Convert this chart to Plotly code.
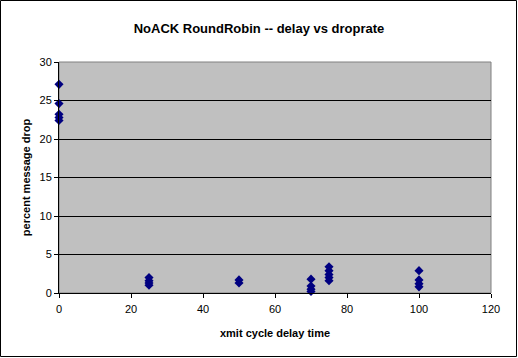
import plotly.graph_objects as go

delay = [0, 0, 0, 0, 0,
         25, 25, 25, 25,
         50, 50,
         70, 70, 70, 70,
         75, 75, 75, 75, 75,
         100, 100, 100, 100]
droprate = [27.1, 24.6, 23.2, 22.8, 22.4,
            2.0, 1.6, 1.3, 1.0,
            1.7, 1.3,
            1.8, 0.9, 0.5, 0.2,
            3.4, 2.9, 2.4, 2.0, 1.6,
            2.9, 1.7, 1.2, 0.8]
xticks = [0, 20, 40, 60, 80, 100, 120]
yticks = [0, 5, 10, 15, 20, 25, 30]

W, H = 518, 358
L, R, T, B = 59, 27, 62, 65
PW, PH = W - L - R, H - T - B

fig = go.Figure()
fig.add_trace(go.Scatter(
    x=delay, y=droprate, mode="markers",
    marker=dict(symbol="diamond", size=7, color="#000080",
                line=dict(width=0)),
    showlegend=False, cliponaxis=False))

fig.update_layout(
    width=W, height=H,
    margin=dict(l=L, r=R, t=T, b=B, autoexpand=False),
    paper_bgcolor="white", plot_bgcolor="#C0C0C0",
    font=dict(family="Arial, Liberation Sans", size=11, color="black"),
    title=dict(text="<b>NoACK RoundRobin -- delay vs droprate</b>",
               x=0.5, xanchor="center", y=1 - 28/358, yanchor="middle",
               font=dict(size=13)),
    xaxis=dict(range=[0, 120], tickvals=xticks,
               showgrid=False, zeroline=False, showline=True,
               linecolor="black", linewidth=1, ticks="outside",
               ticklen=4, tickcolor="black", automargin=False,
               ticklabelstandoff=2,
               title=dict(text="<b>xmit cycle delay time</b>", standoff=15,
                          font=dict(size=11))),
    yaxis=dict(range=[0, 30], tickvals=yticks,
               showgrid=True, gridcolor="black", gridwidth=1,
               zeroline=False, showline=True, linecolor="black",
               linewidth=1, ticks="outside", ticklen=4, tickcolor="black",
               automargin=False,
               title=dict(text="<b>percent message drop</b>", standoff=6,
                          font=dict(size=11))),
    shapes=[
        dict(type="rect", xref="paper", yref="paper", x0=0, x1=1, y0=0, y1=1,
             line=dict(color="#808080", width=1), fillcolor="rgba(0,0,0,0)",
             layer="below"),
        dict(type="rect", xref="paper", yref="paper",
             x0=-(L - 0.5)/PW, x1=1 + (W - 1.5 - (W - R))/PW,
             y0=-(H - 1.5 - (H - B))/PH, y1=1 + (T - 0.5)/PH,
             line=dict(color="black", width=1), fillcolor="rgba(0,0,0,0)"),
    ],
)

fig.write_html("out.html", config={"displayModeBar": False},
               post_script="document.body.style.margin='0';document.body.style.overflow='hidden';")
